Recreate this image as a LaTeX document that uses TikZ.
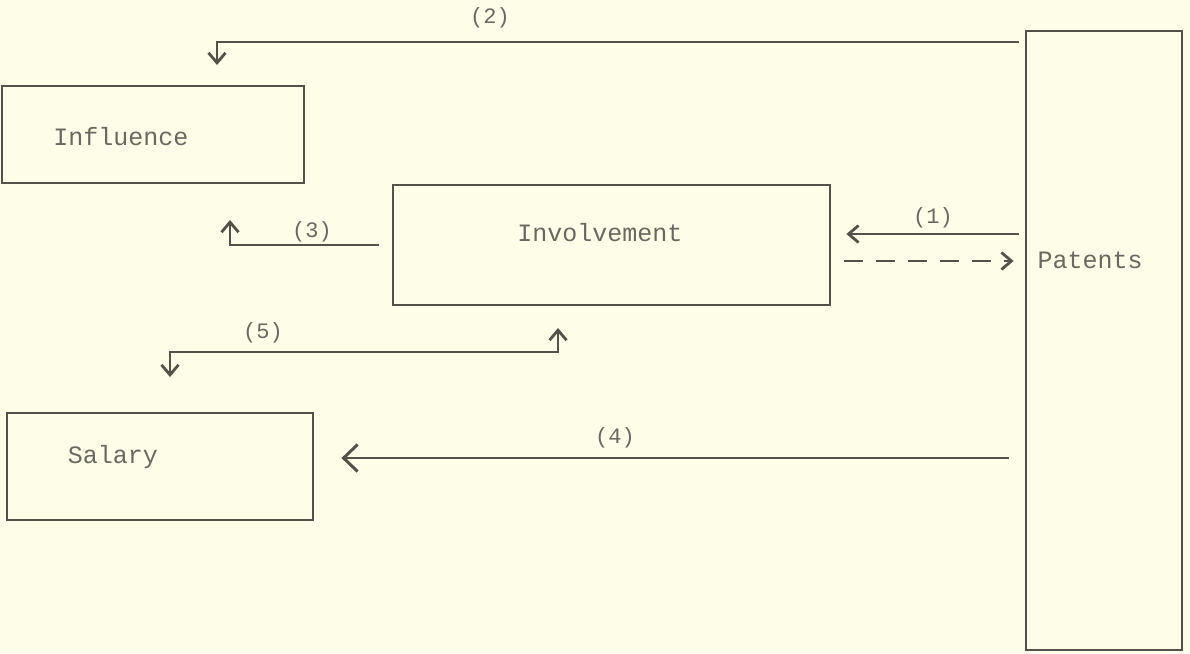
\documentclass[tikz,border=0pt]{standalone}
\usepackage{fontspec}
\setmonofont{Liberation Mono}
\usetikzlibrary{arrows.meta}
\definecolor{paper}{RGB}{253,253,232}
\definecolor{ink}{RGB}{82,82,74}
\definecolor{txt}{RGB}{105,105,98}
\begin{document}
\begin{tikzpicture}[x=1pt,y=-1pt,
  box/.style={draw=ink, line width=2.8pt, rectangle, inner sep=0pt},
  lbl/.style={text=txt, font=\ttfamily\fontsize{25}{30}\selectfont, inner sep=0pt},
  num/.style={text=txt, font=\ttfamily\fontsize{22}{26}\selectfont, inner sep=0pt},
  conn/.style={draw=ink, line width=2.6pt, -{Straight Barb[length=10pt,width=17pt,line width=2.8pt]}},
  conn2/.style={draw=ink, line width=2.6pt, {Straight Barb[length=10pt,width=17pt,line width=2.8pt]}-{Straight Barb[length=10pt,width=17pt,line width=2.8pt]}},
  bigconn/.style={draw=ink, line width=2.8pt, -{Straight Barb[length=14pt,width=27pt,line width=3pt]}}
]
\fill[paper] (0,0) rectangle (1190,653);
\useasboundingbox (0,0) rectangle (1190,653);

% boxes
\node[box, minimum width=302pt, minimum height=97pt] (infl) at (153,134.5) {};
\node[box, minimum width=437pt, minimum height=120pt] (inv) at (611.5,245) {};
\node[box, minimum width=306pt, minimum height=107pt] (sal) at (160,466.5) {};
\node[box, minimum width=156pt, minimum height=619pt] (pat) at (1104,340.5) {};

% box texts
\node[lbl] (inflT) at (121,137) {Influence};
\node[lbl] (invT) at (600,233) {Involvement};
\node[lbl] (salT) at (113,457) {Salary};
\node[lbl] (patT) at (1090,260) {Patents};

% connector end points
\coordinate (c2s) at ([xshift=-6pt]pat.west |- 0,42);
\coordinate (c2e) at (217,65);
\coordinate (c1s) at ([xshift=-6pt]pat.west |- 0,234);
\coordinate (c1e) at ([xshift=15pt]inv.east |- 0,234);
\coordinate (cds) at ([xshift=13pt]inv.east |- 0,261);
\coordinate (cde) at ([xshift=-11pt]pat.west |- 0,261);
\coordinate (c3s) at ([xshift=-13pt]inv.west |- 0,245);
\coordinate (c3e) at (230,220);
\coordinate (c5a) at (170,377);
\coordinate (c5m) at (558,352);
\coordinate (c5b) at (558,328);
\coordinate (c4s) at ([xshift=-16pt]pat.west |- 0,458);
\coordinate (c4e) at ([xshift=27pt]sal.east |- 0,458);

% connectors
\draw[conn] (c2s) -| (c2e);
\draw[conn] (c1s) -- (c1e);
\draw[conn, line width=2pt, dash pattern=on 19pt off 13pt] (cds) -- (cde);
\draw[conn] (c3s) -| (c3e);
\draw[conn2] (c5a) |- (c5m) -- (c5b);
\draw[bigconn] (c4s) -- (c4e);

% labels
\node[num] (n2) at (490,18) {(2)};
\node[num] (n1) at (933,218) {(1)};
\node[num] (n3) at (312,232) {(3)};
\node[num] (n5) at (263,333) {(5)};
\node[num] (n4) at (615,438) {(4)};
\end{tikzpicture}
\end{document}
